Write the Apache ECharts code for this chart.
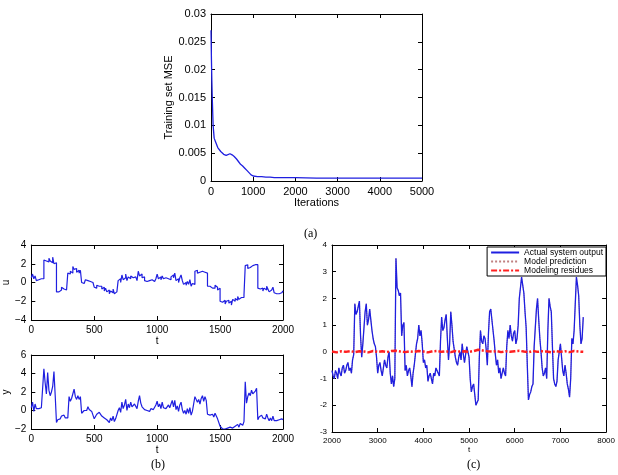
<!DOCTYPE html>
<html>
<head>
<meta charset="utf-8">
<script src="https://cdn.jsdelivr.net/npm/echarts@6/dist/echarts.min.js"></script>
<style>
  html, body { margin: 0; padding: 0; background: #fff; }
  #main { width: 618px; height: 475px; }
</style>
</head>
<body>
<div id="main"></div>
<script>
// (a) training curve
var mseIter = [0, 10, 20, 30, 50, 75, 100, 130, 160, 200, 230, 260, 300, 330, 360, 400, 450, 500, 550, 600,
  650, 700, 750, 800, 850, 900, 950, 1000, 1100, 1200, 1300, 1400, 1500, 1700, 2000, 2500, 3000, 3500, 4000, 4500, 5000];
var mseVal = [0.0271, 0.022, 0.018, 0.0149, 0.010, 0.0077, 0.0072, 0.0066, 0.0060, 0.0058, 0.0053, 0.0055, 0.0048, 0.0050, 0.0046, 0.0048, 0.0049, 0.0047, 0.0044, 0.0040,
  0.0035, 0.0030, 0.0027, 0.0023, 0.0019, 0.0015, 0.0011, 0.0009, 0.0008, 0.0008, 0.0007, 0.0007, 0.0006, 0.0006, 0.0006, 0.0005, 0.0005, 0.0005, 0.0005, 0.0005, 0.0005];

// (b) input u and output y, one value every 10 samples (t = 0..2000)
var uVal = [
  0.5, 0.9, 0.4, 0.7, 0.2, 0.3, 0.2, 0.4, 0.3, 0.4,
  2.4, 2.3, 2.5, 2.2, 2.6, 2.3, 2.1, 2.7, 2.0, 2.1,
  -1.0, -1.0, -0.9, -0.8, -0.5, -0.7, -0.6, -0.8, -0.7, 1.0,
  0.9, 1.2, 1.0, 1.7, 1.4, 1.5, 1.1, 1.3, 1.0, 1.3,
  0.0, -0.1, 0.1, 0.3, 0.2, 0.4, 0.1, 0.2, 0.0, -0.1,
  -0.5, -0.6, -0.3, -0.4, -0.2, -0.4, -0.7, -0.5, -0.9, -0.6,
  -1.0, -0.8, -1.2, -0.9, -1.1, -0.7, -1.2, -1.0, -1.2, 0.2,
  0.4, 0.0, 0.8, 0.3, 0.5, 0.9, 0.2, 0.6, 0.4, 0.7,
  0.5, 0.3, 0.6, 0.8, 0.2, 1.2, 0.7, 0.9, 0.5, 0.6,
  0.2, 0.1, 0.1, 0.2, 0.1, 0.3, 0.1, 0.1, 0.2, 0.4,
  0.9, 0.4, 0.6, 0.3, 0.7, 0.4, 0.5, 0.3, 0.4, 0.5,
  0.3, 0.6, 0.8, 0.5, 1.0, 0.2, 0.4, 0.0, 0.5, 0.8,
  0.2, -0.2, 0.0, -0.3, 0.1, -0.2, 0.3, -0.4, -0.1, -0.2,
  1.2, 1.3, 1.0, 1.1, 0.9, 1.2, 1.4, 1.1, 1.3, 1.0,
  -0.4, -0.4, -0.5, -0.6, -0.4, -0.6, -0.3, -0.5, -0.8, -0.6,
  -2.0, -2.1, -2.2, -1.9, -2.3, -2.0, -1.9, -2.2, -2.0, -2.4,
  -1.8, -2.0, -1.7, -1.9, -1.5, -1.8, -1.6, -1.4, -1.6, -1.3,
  1.8, 1.9, 1.5, 1.6, 1.8, 1.8, 1.7, 1.9, 1.8, 1.9,
  -0.6, -0.7, -0.8, -0.6, -0.9, -0.6, -0.8, -0.4, -0.7, -1.0,
  -0.8, -1.0, -0.5, -1.1, -1.2, -1.1, -1.2, -1.0, -1.1, -0.9,
  -1.0
];
var yVal = [
  0.3, 0.9, -0.1, 0.7, 0.2, 0.0, 0.2, 0.4, 0.3, 0.4,
  4.5, 3.0, 1.8, 4.1, 2.2, 1.6, 2.0, 2.6, 4.2, 1.6,
  -1.3, -1.0, -1.0, -0.9, -0.6, -0.8, -0.5, -0.8, -0.7, -0.8,
  1.5, 1.0, 1.3, 1.1, 2.3, 1.5, 1.2, 1.6, 1.2, 1.5,
  -0.3, -0.2, 0.0, 0.2, 0.0, 0.4, 0.1, 0.3, -0.1, 0.0,
  -0.9, -0.7, -0.4, -0.5, -0.2, -0.4, -0.6, -0.4, -0.8, -0.6,
  -1.0, -0.8, -1.3, -0.8, -1.1, -0.6, -1.2, -0.9, -1.1, 0.0,
  0.3, -0.2, 0.9, 0.2, 0.6, 1.2, 0.0, 0.7, 0.3, 0.9,
  0.4, 0.2, 0.7, 0.9, 0.2, 1.0, 1.6, 0.8, 0.4, 0.5,
  0.1, -0.1, 0.0, 0.1, -0.1, 0.2, 0.0, 0.1, -0.1, 0.6,
  1.0, 0.4, 0.7, 0.2, 0.9, 0.3, 0.5, 0.2, 0.4, 0.6,
  0.3, 0.7, 1.1, 0.4, 1.1, 0.1, 0.5, -0.1, 0.6, 0.9,
  0.1, -0.3, 0.0, -0.4, 0.2, -0.3, 0.3, -0.5, -0.1, -0.3,
  1.5, 1.4, 0.9, 1.2, 0.7, 1.3, 1.6, 1.0, 1.5, 1.1,
  -0.4, -0.5, -0.5, -0.6, -0.4, -0.7, -0.3, -0.5, -0.9, -0.7,
  -1.7, -1.9, -2.0, -1.8, -2.0, -1.8, -1.9, -2.0, -1.8, -2.0,
  -1.9, -2.0, -1.7, -1.9, -1.5, -1.8, -1.4, -1.3, -1.6, -1.2,
  3.1, 0.8, 1.5, 1.9, 1.6, 2.2, 1.8, 2.0, 2.1, 2.4,
  -1.0, -0.7, -0.8, -0.5, -0.8, -0.6, -0.9, -0.4, -0.8, -1.1,
  -0.8, -1.1, -0.6, -1.1, -1.2, -1.1, -1.2, -1.0, -1.1, -0.9,
  -1.0
];

// (c) test output, one value every 25 samples (t = 2000..7500)
var cVal = [
  -0.7, -0.9, -1.0, -0.7, -0.8, -1.0, -0.6, -0.8, -0.9, -0.6,
  -0.5, -0.8, -0.7, -0.5, -0.4, -0.7, -0.6, -0.8, -0.3, -0.1,
  1.8, 1.4, 1.5, 1.7, 1.9, 0.6, -0.2, 0.3, 0.9, 1.5,
  1.8, 1.0, 1.2, 1.6, 1.6, 0.8, 0.5, 0.3, 0.2, -0.2,
  -0.8, -0.5, -0.4, -0.7, -0.9, -0.6, -0.3, -0.5, -0.6, -0.2,
  0.0, -0.8, -1.2, -0.9, -1.3, -1.0, 3.5, 2.4, 2.3, 2.1,
  2.2, 0.6, 1.0, 1.1, -0.7, -0.5, -0.9, -0.7, -0.6, -0.9,
  -1.3, -0.8, -0.5, -0.1, 0.3, 0.5, 1.0, 0.6, 0.8, 0.3,
  -0.4, -0.3, -0.6, -0.5, -1.1, -0.9, -0.8, -1.0, -1.2, -0.8,
  -0.9, -0.6, -0.6, -0.8, -0.9, 0.4, 1.3, 0.8, 0.9, 1.2,
  1.4, 0.5, -0.3, 0.3, 1.5, 1.0, 0.4, 0.1, -0.2, -0.4,
  -0.5, -0.2, 0.0, -0.3, 0.3, -0.1, -0.4, -0.1, 0.2, 0.0,
  -0.2, -1.0, -1.5, -1.3, -1.2, -1.6, -2.0, -1.9, -1.8, -0.2,
  0.8, 0.4, 0.3, 0.6, 0.5, 0.1, -0.5, 0.7, 1.5, 1.6,
  1.2, 0.8, 0.4, -0.1, -0.5, -0.3, -0.8, -0.6, -1.0, -0.8,
  -0.6, -0.8, -0.9, 0.2, 0.8, 0.5, 1.0, 0.6, 0.4, 0.7,
  0.8, 0.3, 0.5, 1.0, 2.0, 2.4, 2.8, 2.5, 2.2, 1.5,
  0.9, -0.5, -1.8, -1.6, -1.5, -1.3, -1.2, 0.2, 0.9, 1.6,
  2.0, 1.2, 0.5, 0.0, -0.6, -0.9, -0.8, -0.6, -1.0, 0.8,
  2.0, 1.7, 1.5, 0.2, -1.0, -1.2, -1.3, -1.1, -0.3, 0.0,
  0.3, -0.2, -0.7, -0.9, -0.5, -0.8, -1.2, -1.4, -1.7, -1.0,
  0.5, 0.3, 0.8, 1.8, 2.8, 2.5, 2.1, 1.0, 0.3, 0.5,
  1.3
];
// residues, one value every 100 samples
var resVal = [
  0.01, -0.02, 0.02, 0.0, 0.03, -0.01, 0.02, 0.01, -0.02, 0.03,
  0.0, 0.02, -0.01, 0.03, 0.04, 0.01, -0.01, 0.02, 0.0, 0.03,
  0.01, -0.02, 0.02, 0.03, 0.0, 0.02, -0.01, 0.03, 0.01, 0.02,
  0.0, 0.03, 0.08, 0.05, 0.02, 0.01, 0.03, -0.01, 0.02, 0.0,
  0.02, 0.04, 0.01, -0.01, 0.03, 0.0, 0.02, 0.01, -0.02, 0.03,
  0.0, 0.02, -0.01, 0.03, 0.01, 0.0
];
var legendNames = ['Actual system output', 'Model prediction', 'Modeling residues'];

function pairs(start, step, vals) {
  var out = [];
  for (var i = 0; i < vals.length; i++) out.push([start + i * step, vals[i]]);
  return out;
}

var FONT = 'Liberation Sans, Arial, sans-serif';
var fmtPlain = function (v) { return String(v); };
var fmtMinus = function (v) { return String(v).replace('-', '\u2212'); };

// main axis with labels
function mainAxis(grid, min, max, interval, size, name, gap, fmt) {
  return {
    type: 'value', gridIndex: grid, min: min, max: max, interval: interval,
    name: name, nameLocation: 'middle', nameGap: gap,
    nameTextStyle: { color: '#000', fontFamily: FONT, fontSize: size },
    axisLine: { show: true, onZero: false, lineStyle: { color: '#000', width: 1 } },
    axisTick: { inside: true, length: 4, lineStyle: { color: '#000' } },
    axisLabel: { color: '#000', fontFamily: FONT, fontSize: size, margin: 5, formatter: fmt || fmtPlain },
    splitLine: { show: false }
  };
}
// mirrored axis on top / right, ticks only
function mirrorAxis(grid, min, max, interval, pos) {
  return {
    type: 'value', gridIndex: grid, min: min, max: max, interval: interval, position: pos,
    axisLine: { show: true, onZero: false, lineStyle: { color: '#000', width: 1 } },
    axisTick: { inside: true, length: 4, lineStyle: { color: '#000' } },
    axisLabel: { show: false },
    splitLine: { show: false }
  };
}

var xAxes = [
  mainAxis(0, 0, 5000, 1000, 11, 'Iterations', 13),
  mainAxis(1, 0, 2000, 500, 10, 't', 10),
  mainAxis(2, 0, 2000, 500, 10, 't', 10),
  mainAxis(3, 2000, 8000, 1000, 8, 't', 10),
  mirrorAxis(0, 0, 5000, 1000, 'top'),
  mirrorAxis(1, 0, 2000, 500, 'top'),
  mirrorAxis(2, 0, 2000, 500, 'top'),
  mirrorAxis(3, 2000, 8000, 1000, 'top')
];
var yAxes = [
  mainAxis(0, 0, 0.03, 0.005, 11, 'Training set MSE', 36),
  mainAxis(1, -4, 4, 2, 10, 'u', 17, fmtMinus),
  mainAxis(2, -2, 6, 2, 10, 'y', 17, fmtMinus),
  mainAxis(3, -3, 4, 1, 8, '', 10),
  mirrorAxis(0, 0, 0.03, 0.005, 'right'),
  mirrorAxis(1, -4, 4, 2, 'right'),
  mirrorAxis(2, -2, 6, 2, 'right'),
  mirrorAxis(3, -3, 4, 1, 'right')
];

var myChart = echarts.init(document.getElementById('main'));
var capStyle = { fontFamily: 'Liberation Serif, serif', fontSize: 12, fontWeight: 'normal', color: '#000' };
var option = {
  backgroundColor: '#fff',
  animation: false,
  title: [
    { text: '(a)', left: 299, top: 223, textStyle: capStyle },
    { text: '(b)', left: 146, top: 454, textStyle: capStyle },
    { text: '(c)', left: 462, top: 454, textStyle: capStyle }
  ],
  grid: [
    { left: 211, top: 14, width: 211, height: 167 },
    { left: 27, top: 245, width: 256, height: 75 },
    { left: 27, top: 355, width: 256, height: 74 },
    { left: 332, top: 245, width: 275, height: 187 }
  ],
  legend: {
    data: legendNames,
    orient: 'vertical',
    right: 12, top: 247,
    backgroundColor: '#fff',
    borderColor: '#000', borderWidth: 1, borderRadius: 0,
    padding: [1, 3, 1, 3],
    itemGap: 0, itemWidth: 28, itemHeight: 8,
    itemStyle: { opacity: 0 },   // line sample only, no marker
    textStyle: { fontFamily: FONT, fontSize: 8.5, color: '#000' }
  },
  xAxis: xAxes,
  yAxis: yAxes,
  series: [
    {
      type: 'line', xAxisIndex: 0, yAxisIndex: 0, symbol: 'none',
      lineStyle: { color: '#1f1fe0', width: 1.3 },
      data: mseIter.map(function (t, i) { return [t, mseVal[i]]; })
    },
    {
      type: 'line', xAxisIndex: 1, yAxisIndex: 1, symbol: 'none', step: 'end',
      lineStyle: { color: '#1f1fe0', width: 1.2 },
      data: pairs(0, 10, uVal)
    },
    {
      type: 'line', xAxisIndex: 2, yAxisIndex: 2, symbol: 'none',
      lineStyle: { color: '#1f1fe0', width: 1.2 },
      data: pairs(0, 10, yVal)
    },
    {
      name: 'Model prediction', type: 'line', xAxisIndex: 3, yAxisIndex: 3, symbol: 'none', z: 1,
      itemStyle: { color: '#c08080' },
      lineStyle: { color: '#c08080', width: 1, type: 'dotted' },
      data: pairs(2000, 25, cVal)
    },
    {
      name: 'Actual system output', type: 'line', xAxisIndex: 3, yAxisIndex: 3, symbol: 'none', z: 2,
      itemStyle: { color: '#1f1fe0' },
      lineStyle: { color: '#1f1fe0', width: 1.3 },
      data: pairs(2000, 25, cVal)
    },
    {
      name: 'Modeling residues', type: 'line', xAxisIndex: 3, yAxisIndex: 3, symbol: 'none', z: 3,
      itemStyle: { color: '#ff2020' },
      lineStyle: { color: '#ff2020', width: 2.5, type: [6, 2, 2, 2] },
      data: pairs(2000, 100, resVal)
    }
  ]
};
myChart.setOption(option);
</script>
</body>
</html>
